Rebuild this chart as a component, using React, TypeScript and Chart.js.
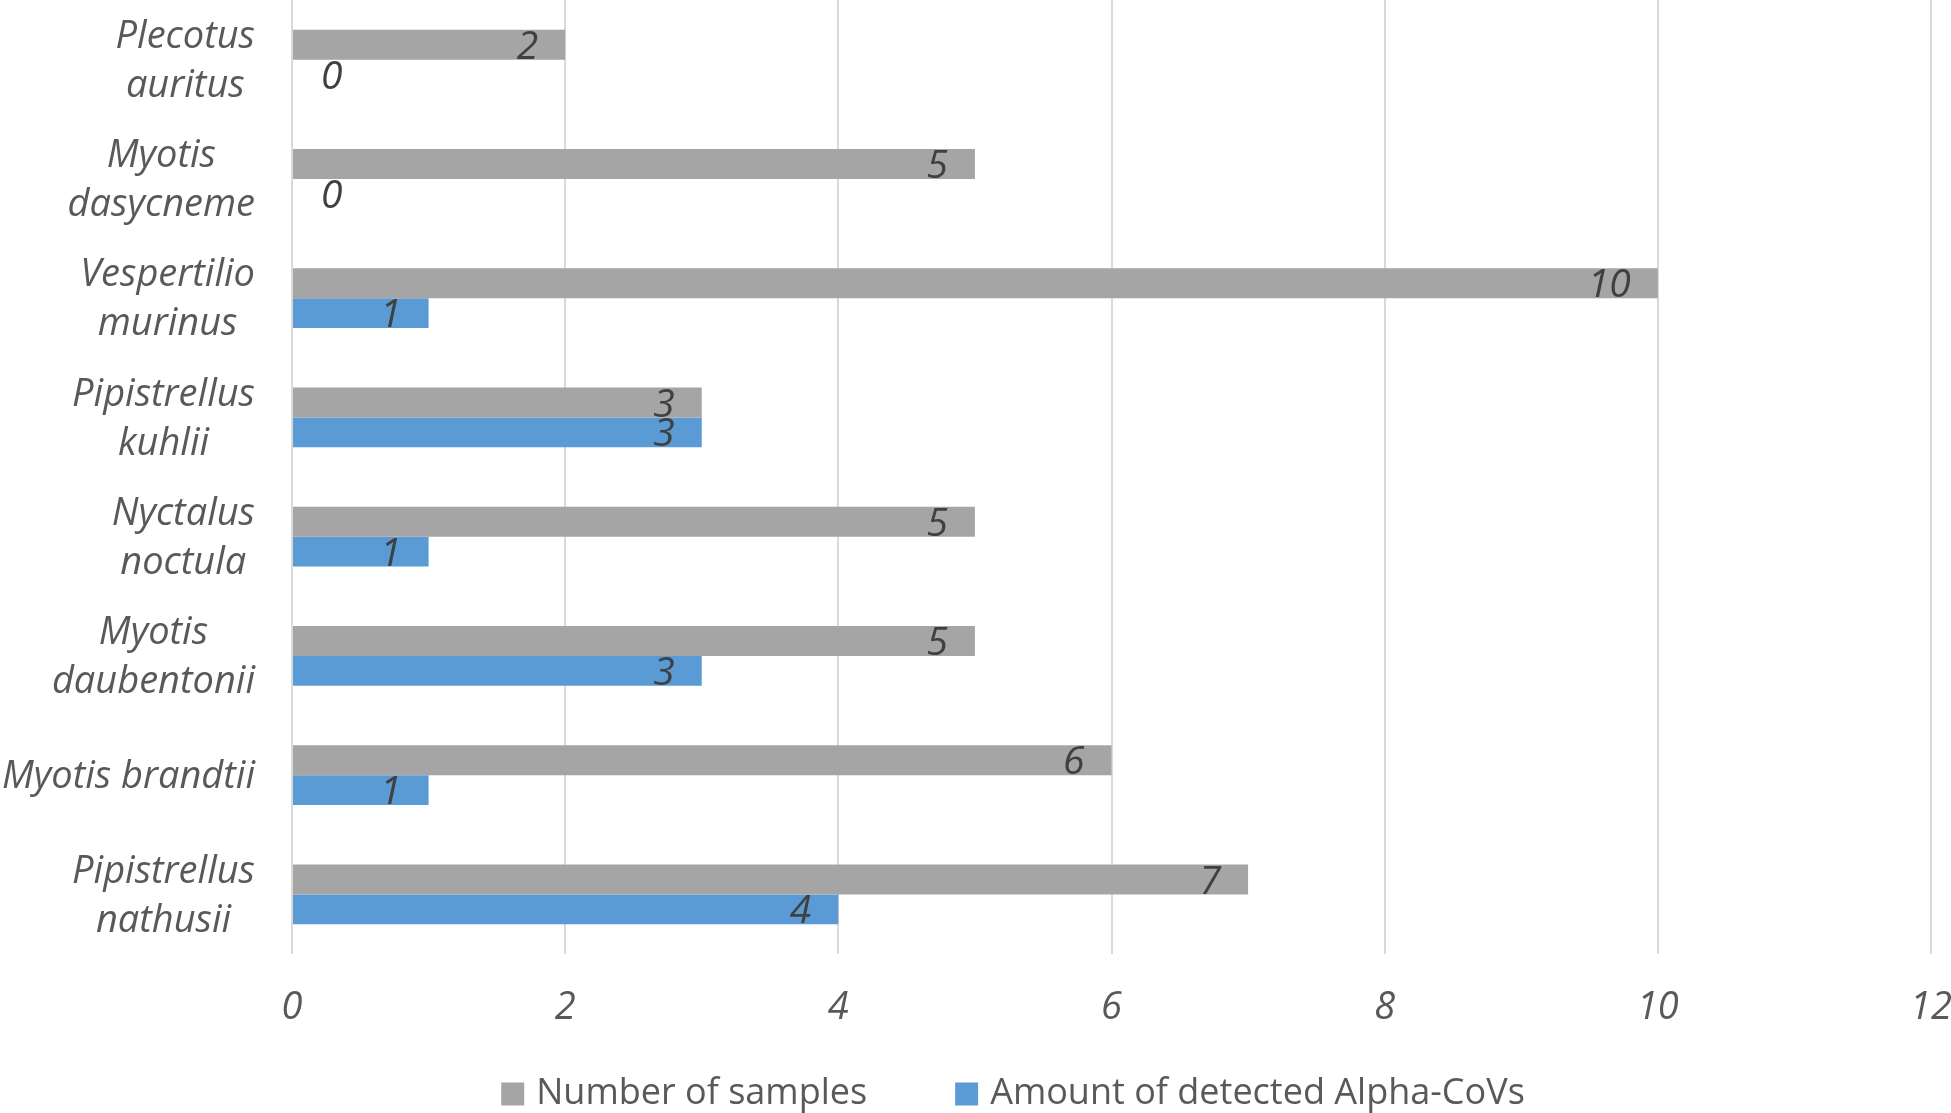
import React, { useEffect, useRef } from "react";
import { Chart, registerables } from "chart.js";

Chart.register(...registerables);

const categories: string[][] = [
  ["Plecotus", "auritus"],
  ["Myotis", "dasycneme"],
  ["Vespertilio", "murinus"],
  ["Pipistrellus", "kuhlii"],
  ["Nyctalus", "noctula"],
  ["Myotis", "daubentonii"],
  ["Myotis brandtii"],
  ["Pipistrellus", "nathusii"],
];
const samples = [2, 5, 10, 3, 5, 5, 6, 7];
const detected = [0, 0, 1, 3, 1, 3, 1, 4];
const xTickValues = [0, 2, 4, 6, 8, 10, 12];
const seriesNames = ["Number of samples", "Amount of detected Alpha-CoVs"];
const seriesColors = ["#A5A5A5", "#5B9BD5"];

const FONT = "'Open Sans', Lato, sans-serif";
const W = 1951;
const H = 1113;

const customPlugin = {
  id: "customText",
  afterDraw(chart: any) {
    const ctx: CanvasRenderingContext2D = chart.ctx;
    const yScale = chart.scales.y;
    ctx.save();
    // category labels (each block right-aligned, lines centred)
    ctx.font = `italic 38px ${FONT}`;
    ctx.fillStyle = "#595959";
    ctx.textBaseline = "middle";
    ctx.textAlign = "center";
    categories.forEach((lines, i) => {
      const cy = yScale.getPixelForValue(i) + 2;
      const w = Math.max(...lines.map((l) => ctx.measureText(l).width));
      const cx = 255 - w / 2;
      const lh = 49;
      lines.forEach((l, j) => {
        ctx.fillText(l, cx, cy + (j - (lines.length - 1) / 2) * lh);
      });
    });
    // data labels
    ctx.font = `italic 39px ${FONT}`;
    ctx.fillStyle = "#404040";
    chart.data.datasets.forEach((ds: any, di: number) => {
      const meta = chart.getDatasetMeta(di);
      meta.data.forEach((bar: any, i: number) => {
        const v = ds.data[i];
        const p = bar.getProps(["x", "y", "base"], true);
        if (v > 0) {
          ctx.textAlign = "right";
          ctx.fillText(String(v), p.x - 27, p.y + 3);
        } else {
          ctx.textAlign = "left";
          ctx.fillText(String(v), p.base + 29, p.y + 3);
        }
      });
    });
    // legend
    ctx.font = `36px ${FONT}`;
    ctx.textAlign = "left";
    const box = 23;
    const gap = 12;
    const itemGap = 88;
    const widths = seriesNames.map((n) => ctx.measureText(n).width);
    const total =
      widths.reduce((a, b) => a + b + box + gap, 0) + itemGap * (seriesNames.length - 1);
    let x = 1013 - total / 2;
    const ly = 1094;
    seriesNames.forEach((n, i) => {
      ctx.fillStyle = seriesColors[i];
      ctx.fillRect(x, ly - box / 2, box, box);
      ctx.fillStyle = "#595959";
      ctx.fillText(n, x + box + gap, ly);
      x += box + gap + widths[i] + itemGap;
    });
    ctx.restore();
  },
};

export default function App() {
  const ref = useRef<HTMLCanvasElement>(null);
  useEffect(() => {
    document.body.style.margin = "0";
    const canvas = ref.current!;
    const chart = new Chart(canvas, {
      type: "bar",
      data: {
        labels: categories.map((c) => c.join(" ")),
        datasets: [
          {
            label: seriesNames[0],
            data: samples,
            backgroundColor: seriesColors[0],
            borderWidth: 0,
            categoryPercentage: 0.5,
            barPercentage: 1.0,
          },
          {
            label: seriesNames[1],
            data: detected,
            backgroundColor: seriesColors[1],
            borderWidth: 0,
            categoryPercentage: 0.5,
            barPercentage: 1.0,
          },
        ],
      },
      options: {
        indexAxis: "y",
        responsive: false,
        animation: false,
        devicePixelRatio: 1,
        layout: { padding: { left: 0, right: 20, top: 0, bottom: 59 } },
        plugins: {
          legend: { display: false },
          tooltip: { enabled: false },
        },
        scales: {
          x: {
            min: 0,
            max: 12,
            afterBuildTicks: (s: any) => {
              s.ticks = xTickValues.map((v) => ({ value: v }));
            },
            ticks: {
              color: "#595959",
              font: { family: FONT, size: 38, style: "italic" },
              padding: 31,
            },
            grid: { color: "#D9D9D9", lineWidth: 2, drawTicks: false },
            border: { display: false },
            afterFit: (s: any) => {
              s.height = 100;
              s.paddingLeft = 0;
              s.paddingRight = 0;
            },
          },
          y: {
            ticks: { display: false },
            grid: { display: false },
            border: { display: false },
            afterFit: (s: any) => {
              s.width = 292;
            },
          },
        },
      },
      plugins: [customPlugin],
    });
    return () => chart.destroy();
  }, []);
  return <canvas ref={ref} width={W} height={H} style={{ display: "block", width: W, height: H }} />;
}
